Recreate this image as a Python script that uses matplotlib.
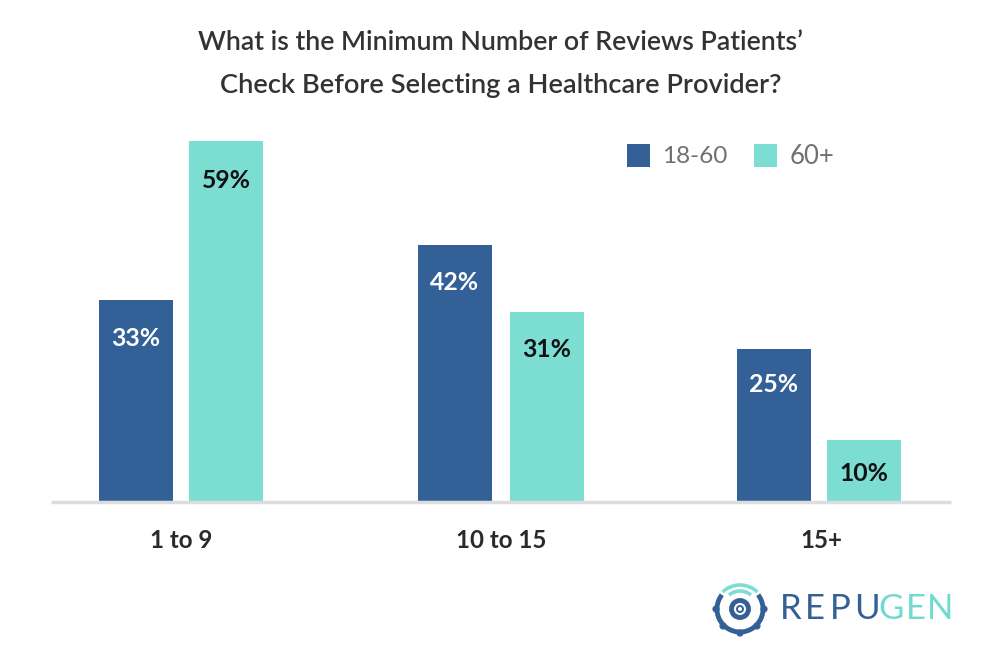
import numpy as np
import matplotlib
matplotlib.use('Agg')
import matplotlib.pyplot as plt
from matplotlib.patches import Arc, Circle, Rectangle

plt.rcParams['font.family'] = ['Lato', 'DejaVu Sans']

title_lines = ["What is the Minimum Number of Reviews Patients\u2019",
               "Check Before Selecting a Healthcare Provider?"]
categories = ['1 to 9', '10 to 15', '15+']
series_names = ['18-60', '60+']
young = [33, 42, 25]
old = [59, 31, 10]
BLUE = '#336096'
TEAL = '#7cddd3'

W, H = 1000, 665
fig = plt.figure(figsize=(10, 6.65), dpi=100)
fig.patch.set_facecolor('white')

# axes: left/right from the baseline rule, y=0 at px 501.5
ax = fig.add_axes([51 / W, (H - 501.5) / H, 900 / W, 360.5 / H])
x = np.arange(len(categories))
bw = 74 / 320
# bar centres are not quite symmetric in the reference (offsets in group units)
off_young = np.array([-45, -46, -47]) / 320
off_old = np.array([45, 46, 43]) / 320
ax.bar(x + off_young, young, bw, color=BLUE, label=series_names[0])
ax.bar(x + off_old, old, bw, color=TEAL, label=series_names[1])
ax.set_xlim(-130 / 320, 770 / 320)
ax.set_ylim(0, 59)
for s in ['top', 'left', 'right']:
    ax.spines[s].set_visible(False)
ax.spines['bottom'].set_color('#dddddd')
ax.spines['bottom'].set_linewidth(2.5)
ax.spines['bottom'].set_capstyle('butt')
ax.set_yticks([])
ax.set_xticks(x)
ax.set_xticklabels(categories, fontsize=17.4, fontweight='bold', color='#2a2a2a')
ax.tick_params(axis='x', length=0, pad=20)

# value labels: drop below the bar top, in points
drop_young = [-28, -27, -25.5]
drop_old = [-28.5, -27, -24]
for i in x:
    ax.annotate(f'{young[i]}%', (i + off_young[i], young[i]), xytext=(0, drop_young[i]), textcoords='offset points',
                ha='center', va='center', fontsize=17.8, fontweight='bold', color='white')
    ax.annotate(f'{old[i]}%', (i + off_old[i], old[i]), xytext=(0, drop_old[i]), textcoords='offset points',
                ha='center', va='center', fontsize=17.8, fontweight='bold', color='#111111')

# overlay in pixel coords for title, legend, logo
ov = fig.add_axes([0, 0, 1, 1])
ov.set_xlim(0, W)
ov.set_ylim(H, 0)
ov.axis('off')
ov.patch.set_alpha(0)

ov.text(500, 42.5, title_lines[0], ha='center', va='center', fontsize=19.3, fontweight='semibold', color='#333333')
ov.text(501, 85, title_lines[1], ha='center', va='center', fontsize=19.6, fontweight='semibold', color='#333333')

ov.add_patch(Rectangle((627, 144), 23, 23, color=BLUE, lw=0))
ov.text(662, 156.5, series_names[0], ha='left', va='center', fontsize=17.6, color='#707070')
ov.add_patch(Rectangle((754, 144), 23, 23, color=TEAL, lw=0))
ov.text(790, 156.5, series_names[1], ha='left', va='center', fontsize=18.5, color='#707070')

# logo
cx, cy = 740, 609
ov.add_patch(Arc((cx, cy), 46, 46, theta1=-38, theta2=218, color=BLUE, lw=3.5))
for a in [0, 45, 90, 135, 180]:
    t = np.radians(a)
    ov.add_patch(Circle((cx + 24 * np.cos(t), cy + 24 * np.sin(t)), 3.6, color=BLUE, lw=0))
ov.add_patch(Circle((cx, cy), 8.5, fill=False, ec=BLUE, lw=3.5))
ov.add_patch(Circle((cx, cy), 3, fill=False, ec=BLUE, lw=1.4))
ov.add_patch(Arc((cx, cy - 1), 34, 34, theta1=230, theta2=310, color=TEAL, lw=2.6))
ov.add_patch(Arc((cx, cy + 1), 50, 50, theta1=226, theta2=314, color=TEAL, lw=2.6))
for ch, lx, col in zip('REPUGEN', [780, 805, 830, 854, 878, 906, 927],
                       [BLUE] * 4 + ['#6fdbd0'] * 3):
    ov.text(lx, 609, ch, ha='left', va='center', fontsize=25, fontweight='normal', color=col)

fig.savefig('out.png', dpi=100)
